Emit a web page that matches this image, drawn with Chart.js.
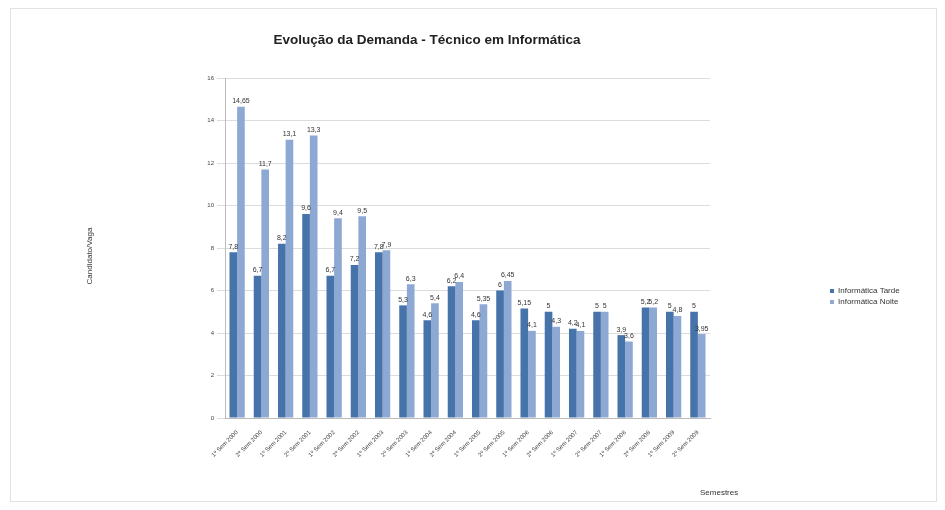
<!DOCTYPE html>
<html>
<head>
<meta charset="utf-8">
<script src="https://cdn.jsdelivr.net/npm/chart.js@4"></script>
<style>
  body { margin: 0; background: #fff; font-family: "Liberation Sans", Arial, sans-serif; }
  #wrap { position: relative; width: 945px; height: 510px; }
  #frame { position: absolute; left: 10px; top: 8px; width: 925px; height: 492px; border: 1px solid #e2e2e2; }
  #title { position: absolute; left: 227px; top: 32px; width: 400px; text-align: center; font-weight: bold; font-size: 13.5px; color: #222; }
  #ytitle { position: absolute; left: 50px; top: 250px; width: 80px; height: 12px; line-height: 12px; text-align: center; transform: rotate(-90deg); font-size: 8px; color: #333; white-space: nowrap; }
  #xtitle { position: absolute; left: 700px; top: 488px; font-size: 8px; color: #333; }
  #legend { position: absolute; left: 830px; top: 285px; font-size: 8px; color: #333; line-height: 11px; }
  #legend span.k { display: inline-block; width: 4px; height: 4px; margin-right: 4px; vertical-align: middle; }
  canvas { position: absolute; left: 0; top: 0; }
</style>
</head>
<body>
<div id="wrap">
  <div id="frame"></div>
  <canvas id="myChart" width="945" height="510"></canvas>
  <div id="title">Evolução da Demanda - Técnico em Informática</div>
  <div id="ytitle">Candidato/Vaga</div>
  <div id="xtitle">Semestres</div>
  <div id="legend"></div>
</div>
<script>
// data
const semestres = ['1º Sem 2000','2º Sem 2000','1º Sem 2001','2º Sem 2001','1º Sem 2002','2º Sem 2002',
  '1º Sem 2003','2º Sem 2003','1º Sem 2004','2º Sem 2004','1º Sem 2005','2º Sem 2005','1º Sem 2006',
  '2º Sem 2006','1º Sem 2007','2º Sem 2007','1º Sem 2008','2º Sem 2008','1º Sem 2009','2º Sem 2009']
const tarde = [7.8, 6.7, 8.2, 9.6, 6.7, 7.2, 7.8, 5.3, 4.6, 6.2, 4.6, 6.0, 5.15, 5.0, 4.2, 5.0, 3.9, 5.2, 5.0, 5.0]
const noite = [14.65, 11.7, 13.1, 13.3, 9.4, 9.5, 7.9, 6.3, 5.4, 6.4, 5.35, 6.45, 4.1, 4.3, 4.1, 5.0, 3.6, 5.2, 4.8, 3.95]
const serieNomes = ['Informática Tarde', 'Informática Noite']
const cores = ['#4773ab', '#8ea8d4']

const valueLabels = {
    id: 'valueLabels',
    afterDatasetsDraw(chart) {
        const c = chart.ctx
        c.save()
        c.font = '7px "Liberation Sans", Arial'
        c.fillStyle = '#333'
        c.textAlign = 'center'
        c.textBaseline = 'bottom'
        chart.data.datasets.forEach((ds, i) => {
            chart.getDatasetMeta(i).data.forEach((bar, j) => {
                c.fillText(String(ds.data[j]).replace('.', ','), bar.x, bar.y - 2)
            })
        })
        c.restore()
    }
}

const ctx = document.getElementById('myChart')
const myChart = new Chart(ctx, {
    type: 'bar',
    data: {
        labels: semestres,
        datasets: [
            { label: serieNomes[0], data: tarde, backgroundColor: cores[0], borderWidth: 0 },
            { label: serieNomes[1], data: noite, backgroundColor: cores[1], borderWidth: 0 }
        ]
    },
    options: {
        responsive: false,
        animation: false,
        layout: { padding: { top: 78, right: 235, left: 0, bottom: 0 } },
        plugins: { legend: { display: false }, tooltip: { enabled: false } },
        datasets: { bar: { categoryPercentage: 0.63, barPercentage: 1.0 } },
        scales: {
            x: {
                afterFit: (s) => { s.height = 92 },
                grid: { display: false },
                border: { color: '#bbb' },
                ticks: { minRotation: 45, maxRotation: 45, autoSkip: false, font: { size: 6 }, color: '#444' }
            },
            y: {
                min: 0, max: 16,
                afterFit: (s) => { s.width = 225 },
                grid: { color: '#dcdcdc' },
                border: { color: '#bbb' },
                ticks: { stepSize: 2, font: { size: 6 }, color: '#444' }
            }
        }
    },
    plugins: [valueLabels]
})

const legendBox = document.getElementById('legend')
serieNomes.forEach((n, i) => {
    const row = document.createElement('div')
    row.innerHTML = '<span class="k" style="background:' + cores[i] + '"></span>' + n
    legendBox.appendChild(row)
})
</script>
</body>
</html>
